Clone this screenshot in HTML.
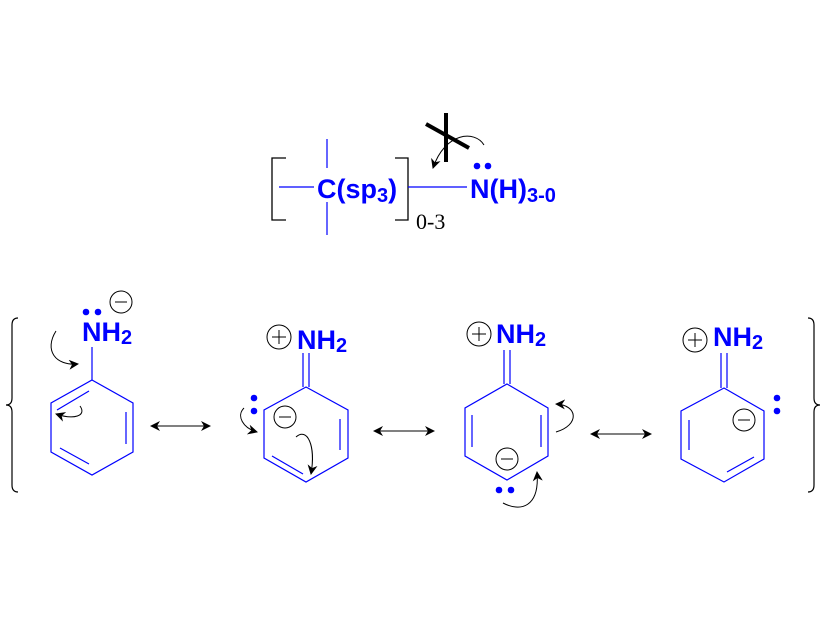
<!DOCTYPE html>
<html><head><meta charset="utf-8"><style>
html,body{margin:0;padding:0;background:#fff;}
svg{display:block}
.b{font-family:"Liberation Sans",sans-serif;font-weight:bold;fill:#0000ff;}
</style></head><body>
<svg width="826" height="620" viewBox="0 0 826 620" xmlns="http://www.w3.org/2000/svg">
<defs>
<marker id="ah" viewBox="0 0 10 10" refX="9" refY="5" markerWidth="10" markerHeight="10" orient="auto-start-reverse" markerUnits="userSpaceOnUse"><path d="M0,0 L10,5 L0,10 L3,5 z" fill="#000"/></marker>
</defs>
<g stroke="#000" stroke-width="1.3" fill="none">
<path d="M286,158 H272 V220 H286"/>
<path d="M395,158 H408 V220 H395"/>
</g>
<g stroke="#0000ff" stroke-width="1.2">
<line x1="279" y1="187" x2="314" y2="187"/>
<line x1="327" y1="139" x2="327" y2="168"/>
<line x1="327" y1="202" x2="327" y2="235"/>
<line x1="408" y1="187" x2="467" y2="187"/>
</g>
<text class="b" x="317" y="198" font-size="27">C(sp<tspan font-size="20" dy="4">3</tspan><tspan dy="-4">)</tspan></text>
<text class="b" x="470" y="198" font-size="27">N(H)<tspan font-size="20" dy="4">3-0</tspan></text>
<circle cx="477" cy="166" r="3.3" fill="#0000ff"/><circle cx="488" cy="166" r="3.3" fill="#0000ff"/>
<text x="416" y="229" font-family="Liberation Serif,serif" font-size="22">0-3</text>
<g stroke="#000" stroke-width="4"><line x1="446" y1="113" x2="446" y2="162"/><line x1="426" y1="124" x2="469" y2="148"/></g>
<path d="M484,145 C475,130 445,132 433,168" stroke="#000" stroke-width="1" fill="none" marker-end="url(#ah)"/>

<path d="M18,318 Q12,318 12,325 V398 Q12,405 6,405 Q12,405 12,412 V485 Q12,492 18,492" stroke="#000" fill="none" stroke-width="1.2"/>
<path d="M808,318 Q814,318 814,325 V398 Q814,405 820,405 Q814,405 814,412 V485 Q814,492 808,492" stroke="#000" fill="none" stroke-width="1.2"/>

<g stroke="#0000ff" stroke-width="1.2" fill="none">
<polygon points="92,380 133,403 133,452 92,475 51,452 51,403"/>
<line x1="92" y1="380" x2="92" y2="347"/>
<line x1="57" y1="410" x2="89" y2="391"/>
<line x1="126" y1="412" x2="126" y2="444"/>
<line x1="60" y1="448" x2="89" y2="464"/>
<polygon points="306,387 348,410 348,458 306,482 264,458 264,410"/>
<line x1="303" y1="353" x2="303" y2="387"/><line x1="309" y1="353" x2="309" y2="387"/>
<line x1="340" y1="419" x2="340" y2="450"/>
<line x1="272" y1="456" x2="303" y2="474"/>
<polygon points="507,384 548,408 548,456 507,480 465,456 465,408"/>
<line x1="504" y1="350" x2="504" y2="384"/><line x1="510" y1="350" x2="510" y2="384"/>
<line x1="472" y1="415" x2="472" y2="447"/>
<line x1="541" y1="415" x2="541" y2="447"/>
<polygon points="724,388 764,411 764,459 724,482 681,459 681,411"/>
<line x1="721" y1="353" x2="721" y2="388"/><line x1="727" y1="353" x2="727" y2="388"/>
<line x1="689" y1="420" x2="689" y2="450"/>
<line x1="727" y1="472" x2="754" y2="457"/>
</g>
<g class="b" font-size="27">
<text x="82" y="341">NH<tspan font-size="20" dy="3">2</tspan></text>
<text x="297" y="349">NH<tspan font-size="20" dy="3">2</tspan></text>
<text x="496" y="343">NH<tspan font-size="20" dy="3">2</tspan></text>
<text x="713" y="346">NH<tspan font-size="20" dy="3">2</tspan></text>
</g>
<g fill="#0000ff">
<circle cx="86" cy="312" r="3.3"/><circle cx="98" cy="312" r="3.3"/>
<circle cx="254" cy="398" r="3.3"/><circle cx="254" cy="411" r="3.3"/>
<circle cx="499" cy="490" r="3.3"/><circle cx="511" cy="490" r="3.3"/>
<circle cx="777" cy="398" r="3.3"/><circle cx="777" cy="411" r="3.3"/>
</g>
<g stroke="#000" stroke-width="1" fill="none">
<circle cx="121" cy="302" r="11"/><line x1="115" y1="302" x2="127" y2="302"/>
<circle cx="279" cy="337" r="12"/><line x1="272" y1="337" x2="286" y2="337"/><line x1="279" y1="330" x2="279" y2="344"/>
<circle cx="285" cy="417" r="11"/><line x1="279" y1="417" x2="291" y2="417"/>
<circle cx="479" cy="334" r="12"/><line x1="472" y1="334" x2="486" y2="334"/><line x1="479" y1="327" x2="479" y2="341"/>
<circle cx="507" cy="459" r="11"/><line x1="501" y1="459" x2="513" y2="459"/>
<circle cx="695" cy="340" r="12"/><line x1="688" y1="340" x2="702" y2="340"/><line x1="695" y1="333" x2="695" y2="347"/>
<circle cx="744" cy="420" r="11"/><line x1="738" y1="420" x2="750" y2="420"/>
</g>
<g stroke="#000" stroke-width="1" fill="none">
<path d="M56,331 C44,350 55,366 78,364" marker-end="url(#ah)"/>
<path d="M80,406 C87,416 74,420 56,414" marker-end="url(#ah)"/>
<path d="M244,408 C236,416 243,428 257,432" marker-end="url(#ah)"/>
<path d="M296,437 C307,427 316,445 311,474" marker-end="url(#ah)"/>
<path d="M556,432 C580,425 578,405 556,404" marker-end="url(#ah)"/>
<path d="M503,503 C520,512 540,508 537,472" marker-end="url(#ah)"/>
<line x1="151" y1="426" x2="210" y2="426" marker-start="url(#ah)" marker-end="url(#ah)"/>
<line x1="374" y1="431" x2="434" y2="431" marker-start="url(#ah)" marker-end="url(#ah)"/>
<line x1="591" y1="434" x2="651" y2="434" marker-start="url(#ah)" marker-end="url(#ah)"/>
</g>
</svg>
</body></html>
